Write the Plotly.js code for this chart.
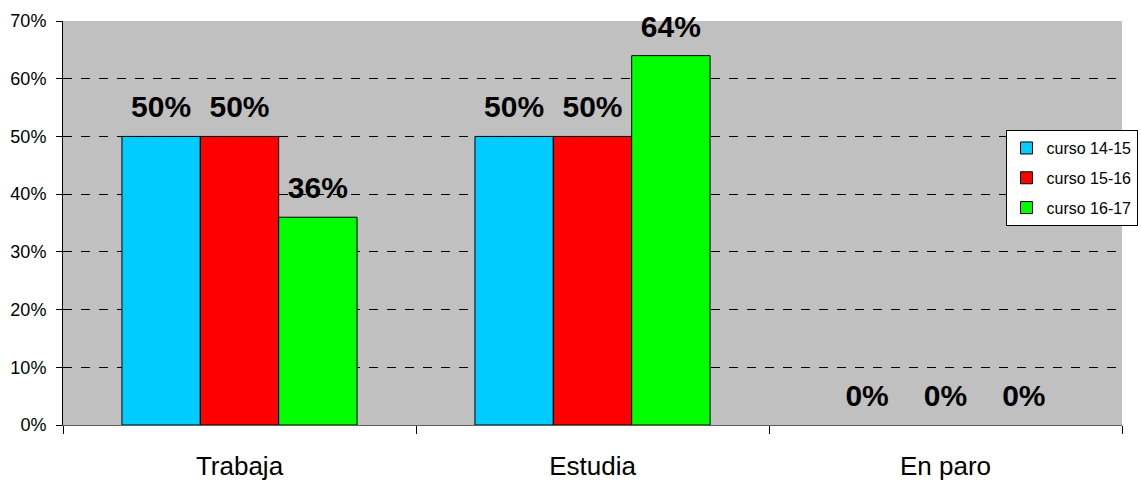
<!DOCTYPE html>
<html><head><meta charset="utf-8">
<script src="https://cdn.plot.ly/plotly-3.0.1.min.js"></script>
<style>body{margin:0;background:#fff}#chart{width:1141px;height:480px}</style>
</head><body><div id="chart"></div>
<script>
const categories = ["Trabaja", "Estudia", "En paro"];
const seriesNames = ["curso 14-15", "curso 15-16", "curso 16-17"];
const curso1415 = [0.50, 0.50, 0.00];
const curso1516 = [0.50, 0.50, 0.00];
const curso1617 = [0.36, 0.64, 0.00];
const colors = ["#00CCFF", "#FF0000", "#00FF00"];
const yTicks = [0, 0.1, 0.2, 0.3, 0.4, 0.5, 0.6, 0.7];

const allSeries = [curso1415, curso1516, curso1617];
const fmt = v => Math.round(v * 100) + "%";

const barTraces = allSeries.map((vals, i) => ({
  type: "bar",
  name: seriesNames[i],
  legendgroup: "g" + i,
  x: categories,
  y: vals,
  marker: {color: colors[i], line: {color: "#000", width: vals.map(v => v > 0 ? 1 : 0)}},
  hoverinfo: "none"
}));

const labelTraces = allSeries.map((vals, i) => ({
  type: "scatter",
  mode: "markers+text",
  x: categories,
  y: vals,
  text: vals.map(fmt),
  textposition: "top center",
  marker: {size: 17, color: "rgba(0,0,0,0)"},
  textfont: {family: "Arial, Liberation Sans, sans-serif", size: 30, color: "#000", weight: "bold"},
  cliponaxis: false,
  showlegend: false,
  hoverinfo: "none"
}));

const layout = {
  width: 1141, height: 480,
  margin: {l: 63, r: 19, t: 21, b: 55, autoexpand: false},
  paper_bgcolor: "#fff",
  plot_bgcolor: "#C0C0C0",
  barmode: "group",
  bargap: 0.334,
  bargroupgap: 0,
  scattermode: "group",
  scattergap: 0.334,
  font: {family: "Arial, Liberation Sans, sans-serif", color: "#000"},
  xaxis: {
    tickson: "boundaries", ticks: "outside", ticklen: 8, tickcolor: "#000",
    showline: true, linecolor: "#606060", linewidth: 1,
    tickfont: {size: 26}, showgrid: false, ticklabelstandoff: 18
  },
  yaxis: {
    range: [0, 0.7], tickvals: yTicks,
    ticktext: yTicks.map(fmt),
    ticks: "outside", ticklen: 6, tickcolor: "#000",
    showline: true, linecolor: "#000", linewidth: 1,
    tickfont: {size: 18}, ticklabelstandoff: 6,
    showgrid: true, gridcolor: "#000", griddash: "dash", gridwidth: 1,
    zeroline: false
  },
  legend: {
    x: 0.890, y: 0.730, xanchor: "left", yanchor: "top",
    bgcolor: "#fff", bordercolor: "#000", borderwidth: 1,
    font: {size: 16}, tracegroupgap: 6, itemwidth: 30
  },
  showlegend: true
};
Plotly.newPlot("chart", barTraces.concat(labelTraces), layout, {displayModeBar: false, staticPlot: true});
</script></body></html>
